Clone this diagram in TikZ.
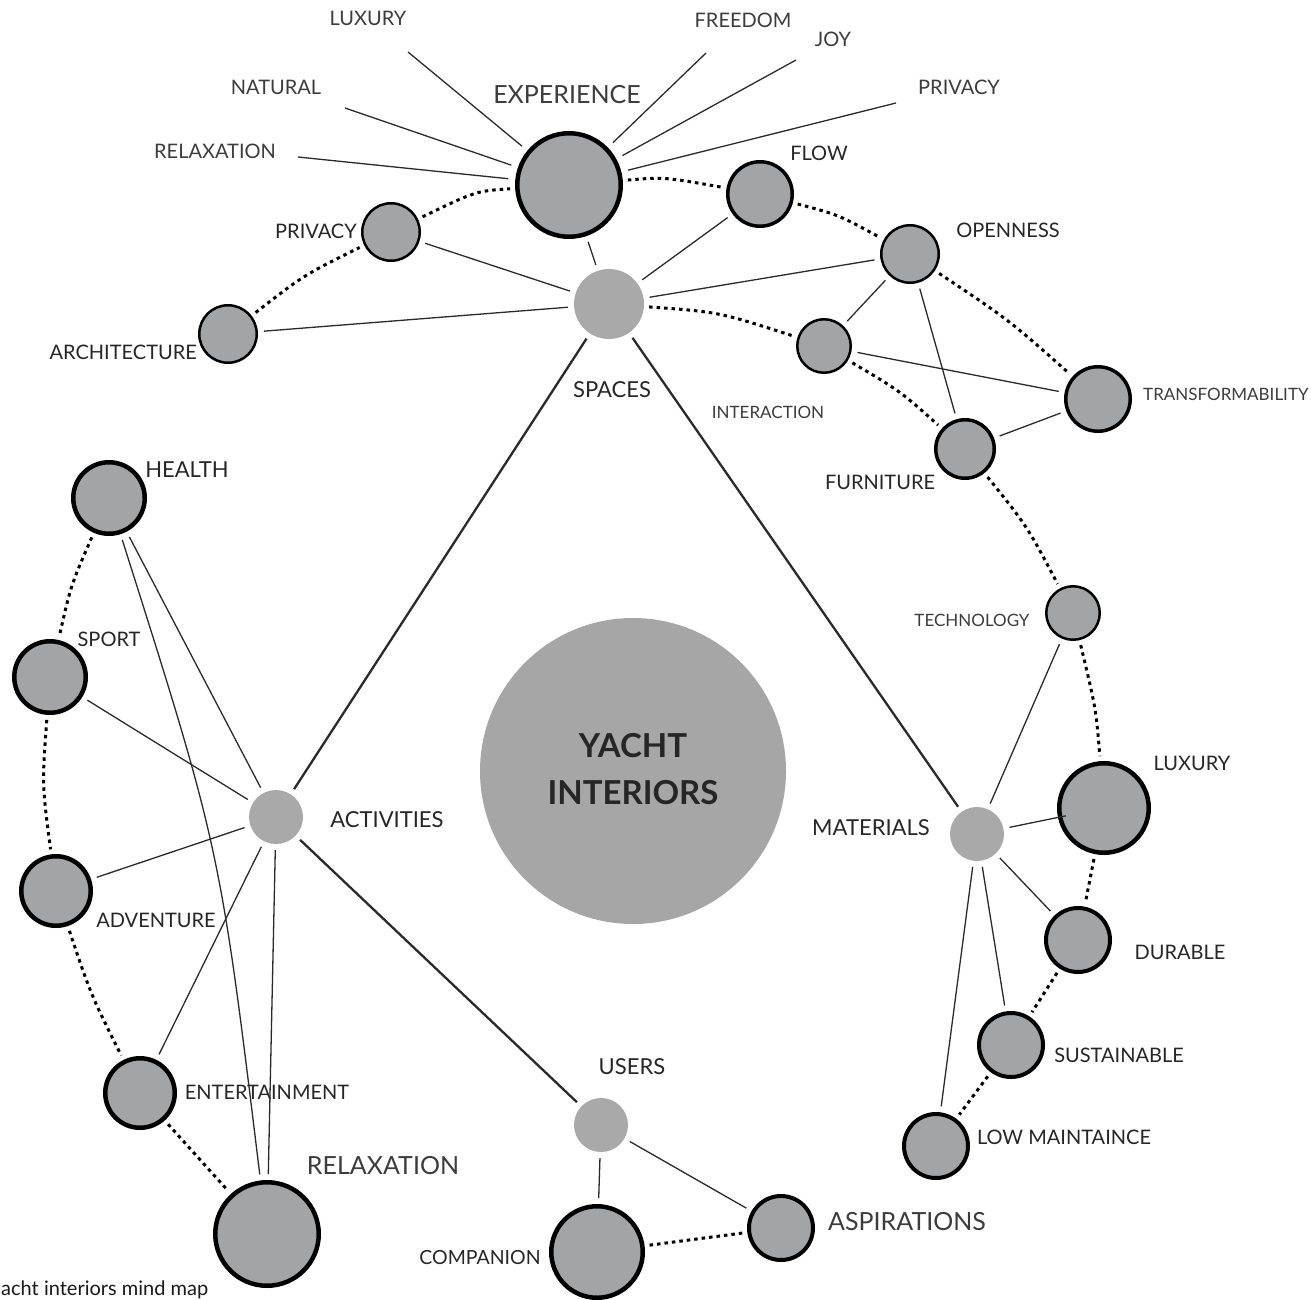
\documentclass[tikz,border=0pt]{standalone}
\usepackage{fontspec}
\setmainfont{Lato}
\definecolor{bubfill}{HTML}{A3A4A6}
\definecolor{hubfill}{HTML}{A9A9A9}
\definecolor{corefill}{HTML}{A6A6A6}
\definecolor{txtdark}{HTML}{262626}
\definecolor{txtlight}{HTML}{3C3C3C}
\definecolor{linecol}{HTML}{2A2A2A}
\begin{document}
\begin{tikzpicture}[x=1pt,y=-1pt,
  bubA/.style n args={2}{circle,draw=black,fill=bubfill,inner sep=0pt,line width=#2,minimum size=#1},
  hubA/.style={circle,fill=hubfill,inner sep=0pt,minimum size=#1},
  lbl/.style={inner sep=0pt,text=txtdark},
  lbll/.style={inner sep=0pt,text=txtlight},
  fs/.style={font=\fontsize{#1}{#1}\selectfont},
  conn/.style={draw=linecol,line width=1.3pt,shorten <=6pt,shorten >=6pt},
  mainconn/.style={conn,line width=2.3pt},
  spoke/.style={draw=linecol,line width=1.3pt,shorten <=7pt},
  dotl/.style={draw=black,line width=3pt,dash pattern=on 3.5pt off 4pt,shorten <=5pt,shorten >=5pt}
]
\useasboundingbox (0,0) rectangle (1311,1300);

% central
\node[circle,fill=corefill,minimum size=306pt,inner sep=0pt] (core) at (633,771) {};
\node[lbl,text=black!85,font=\fontsize{33}{33}\selectfont\bfseries] (t1) at (633,746) {YACHT};
\node[lbl,text=black!85,font=\fontsize{33}{33}\selectfont\bfseries] (t2) at (633,793) {INTERIORS};

% bubbles
\node[bubA={103.5pt}{4.5pt}] (exp) at (569,185) {};
\node[bubA={57.5pt}{2.5pt}] (privL) at (391,232) {};
\node[bubA={57.5pt}{2.5pt}] (arch) at (228,334) {};
\node[hubA=70pt] (spaces) at (609,304) {};
\node[bubA={64.5pt}{3.5pt}] (flow) at (760,194) {};
\node[bubA={57.5pt}{2.5pt}] (open) at (910,254) {};
\node[bubA={53.5pt}{2.5pt}] (inter) at (824,346) {};
\node[bubA={64.5pt}{3.5pt}] (trans) at (1098,399) {};
\node[bubA={58.5pt}{3.5pt}] (furn) at (965,449) {};
\node[bubA={53.5pt}{2.5pt}] (tech) at (1073,613) {};
\node[bubA={89.5pt}{4.5pt}] (luxR) at (1104,808) {};
\node[hubA=54pt] (mat) at (977,834) {};
\node[bubA={64pt}{4pt}] (dur) at (1078,940) {};
\node[bubA={64pt}{4pt}] (sust) at (1011,1045) {};
\node[bubA={64pt}{4pt}] (low) at (936,1146) {};
\node[bubA={64pt}{4pt}] (asp) at (781,1228) {};
\node[bubA={91.5pt}{4.5pt}] (comp) at (597,1252) {};
\node[hubA=54pt] (users) at (601,1125) {};
\node[bubA={103.5pt}{4.5pt}] (relax) at (267,1234) {};
\node[bubA={69.5pt}{4.5pt}] (ent) at (140,1093) {};
\node[bubA={69.5pt}{4.5pt}] (adv) at (56,891) {};
\node[bubA={71.5pt}{4.5pt}] (sport) at (50,677) {};
\node[bubA={71.5pt}{4.5pt}] (health) at (109,498) {};
\node[hubA=54pt] (act) at (276,817) {};

% spoke ends
\coordinate (sLux) at (408,52);
\coordinate (sNat) at (345,108);
\coordinate (sRel) at (298,157);
\coordinate (sFree) at (706,53);
\coordinate (sJoy) at (796,60);
\coordinate (sPriv) at (896,103);

% labels
\node[lbll,fs=20] (lLux) at (368,18) {LUXURY};
\node[lbll,fs=20] (lNat) at (276,87) {NATURAL};
\node[lbll,fs=20] (lRel) at (215,151) {RELAXATION};
\node[lbll,fs=25] (lExp) at (567,95) {EXPERIENCE};
\node[lbll,fs=20] (lFree) at (743,20) {FREEDOM};
\node[lbll,fs=20] (lJoy) at (833,39) {JOY};
\node[lbll,fs=20] (lPrivT) at (959,87) {PRIVACY};
\node[lbl,fs=20,anchor=east] (lPriv) at (357,231) {PRIVACY};
\node[lbl,fs=20,anchor=east] (lArch) at (197,352) {ARCHITECTURE};
\node[lbl,fs=20] (lFlow) at (819,153) {FLOW};
\node[lbl,fs=20] (lOpen) at (1008,230) {OPENNESS};
\node[lbl,fs=22] (lSpaces) at (612,390) {SPACES};
\node[lbll,fs=17] (lInter) at (768,412) {INTERACTION};
\node[lbll,fs=17,anchor=west] (lTrans) at (1143,394) {TRANSFORMABILITY};
\node[lbl,fs=20] (lFurn) at (880,482) {FURNITURE};
\node[lbll,fs=17] (lTech) at (972,620) {TECHNOLOGY};
\node[lbl,fs=20] (lLuxR) at (1192,763) {LUXURY};
\node[lbl,fs=22] (lMat) at (871,828) {MATERIALS};
\node[lbl,fs=20] (lDur) at (1180,952) {DURABLE};
\node[lbl,fs=20] (lSust) at (1119,1055) {SUSTAINABLE};
\node[lbl,fs=20] (lLow) at (1064,1137) {LOW MAINTAINCE};
\node[lbll,fs=25] (lAsp) at (907,1222) {ASPIRATIONS};
\node[lbl,fs=19.5] (lComp) at (480,1257) {COMPANION};
\node[lbl,fs=22] (lUsers) at (632,1067) {USERS};
\node[lbll,fs=25] (lRelax) at (383,1166) {RELAXATION};
\node[lbl,fs=20] (lEnt) at (267,1092) {ENTERTAINMENT};
\node[lbl,fs=20] (lAdv) at (156,920) {ADVENTURE};
\node[lbl,fs=20] (lSport) at (109,639) {SPORT};
\node[lbl,fs=22] (lHealth) at (187,470) {HEALTH};
\node[lbl,fs=22] (lAct) at (387,820) {ACTIVITIES};
\node[lbl,fs=20,anchor=base west,text=black!90] (cap) at (1,1295) {acht interiors mind map};

% spokes from experience
\draw[spoke] (exp) -- (sLux);
\draw[spoke] (exp) -- (sNat);
\draw[spoke] (exp) -- (sRel);
\draw[spoke] (exp) -- (sFree);
\draw[spoke] (exp) -- (sJoy);
\draw[spoke] (exp) -- (sPriv);

% main connectors
\draw[mainconn] (spaces) -- (act);
\draw[mainconn] (spaces) -- (mat);
\draw[mainconn] (act) -- (users);

% thin connectors
\draw[conn] (spaces) -- (exp);
\draw[conn] (spaces) -- (privL);
\draw[conn] (spaces) -- (arch);
\draw[conn] (spaces) -- (flow);
\draw[conn] (spaces) -- (open);
\draw[conn] (open) -- (inter);
\draw[conn] (open) -- (furn);
\draw[conn] (inter) -- (trans);
\draw[conn] (furn) -- (trans);
\draw[conn] (mat) -- (tech);
\draw[conn,shorten >=-8pt] (mat) -- (luxR);
\draw[conn] (mat) -- (dur);
\draw[conn] (mat) -- (sust);
\draw[conn] (mat) -- (low);
\draw[conn] (users) -- (asp);
\draw[conn] (users) -- (comp);
\draw[conn] (act) -- (health);
\draw[conn] (act) -- (sport);
\draw[conn] (act) -- (adv);
\draw[conn] (act) -- (ent);
\draw[conn] (act) -- (relax);
\draw[conn] (health) .. controls (220,848) .. (relax);

% dotted ring
\draw[dotl] (privL) .. controls (476,191) .. (exp);
\draw[dotl] (arch) .. controls (304,275) .. (privL);
\draw[dotl] (exp) .. controls (664,177) .. (flow);
\draw[dotl] (flow) .. controls (839,215) .. (open);
\draw[dotl] (open) .. controls (1009,320) .. (trans);
\draw[dotl] (spaces) .. controls (719,312) .. (inter);
\draw[dotl] (inter) .. controls (900,391) .. (furn);
\draw[dotl] (furn) .. controls (1027,526) .. (tech);
\draw[dotl] (tech) .. controls (1096,709) .. (luxR);
\draw[dotl] (luxR) -- (dur);
\draw[dotl] (dur) -- (sust);
\draw[dotl] (sust) -- (low);
\draw[dotl] (comp) -- (asp);
\draw[dotl] (health) .. controls (71,585) .. (sport);
\draw[dotl] (sport) .. controls (42,784) .. (adv);
\draw[dotl] (adv) .. controls (91,995) .. (ent);
\draw[dotl] (ent) -- (relax);
\end{tikzpicture}
\end{document}
